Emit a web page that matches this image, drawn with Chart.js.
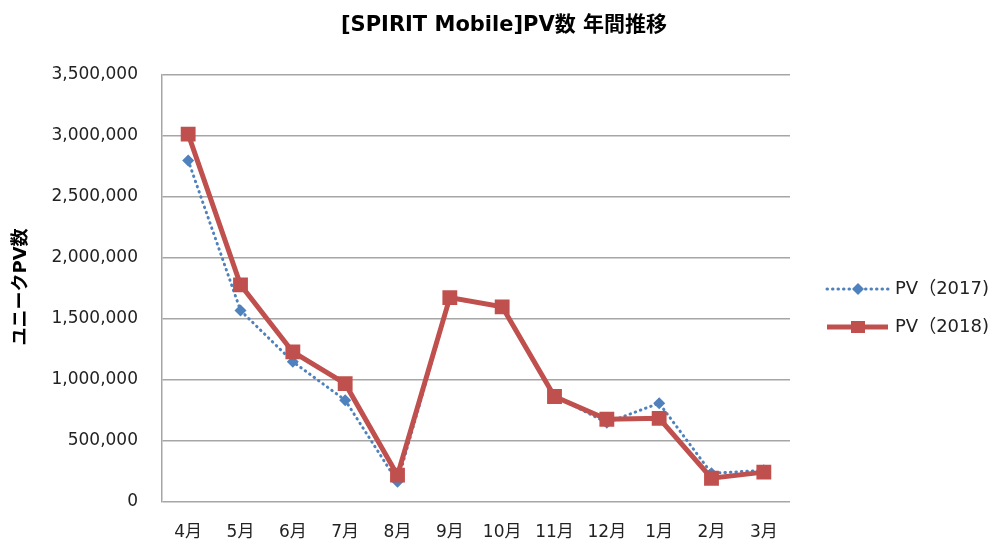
<!DOCTYPE html>
<html>
<head>
<meta charset="utf-8">
<script src="https://cdn.jsdelivr.net/npm/chart.js@4/dist/chart.umd.min.js"></script>
<style>
  html, body { margin: 0; padding: 0; background: #fff; }
  #wrap { width: 1004px; height: 549px; position: relative; }
</style>
</head>
<body>
<div id="wrap"><canvas id="c" width="1004" height="549"></canvas></div>
<script>
const chartTitle = "[SPIRIT Mobile]PV数 年間推移";
const yAxisTitle = "ユニークPV数";
const months = ["4月","5月","6月","7月","8月","9月","10月","11月","12月","1月","2月","3月"];
const seriesNames = ["PV（2017)", "PV（2018)"];
const pv2017 = [2800000, 1570000, 1150000, 835000, 165000, 1670000, 1600000, 870000, 650000, 810000, 235000, 260000];
const pv2018 = [3015000, 1780000, 1230000, 970000, 220000, 1675000, 1600000, 865000, 678000, 686000, 195000, 245000];
const yMin = 0, yMax = 3500000, yStep = 500000;

const JP = '"DejaVu Sans", "Noto Sans CJK JP", sans-serif';
const C2017 = '#4F81BD';
const C2018 = '#C0504D';

const decor = {
  id: 'decor',
  afterDraw(chart) {
    const ctx = chart.ctx;
    ctx.save();
    // title
    ctx.fillStyle = '#000';
    ctx.font = 'bold 21px ' + JP;
    ctx.textAlign = 'center';
    ctx.textBaseline = 'middle';
    ctx.fillText(chartTitle, 504, 26);
    // y axis title
    ctx.save();
    ctx.translate(21, 287);
    ctx.rotate(-Math.PI / 2);
    ctx.font = 'bold 18px ' + JP;
    ctx.fillText(yAxisTitle, 0, 0);
    ctx.restore();
    // legend
    const items = [
      {y: 289, color: C2017, dash: [0.5, 5], width: 3, marker: 'diamond', name: seriesNames[0]},
      {y: 327, color: C2018, dash: [], width: 5, marker: 'square', name: seriesNames[1]}
    ];
    items.forEach(it => {
      ctx.strokeStyle = it.color;
      ctx.lineWidth = it.width;
      ctx.setLineDash(it.dash);
      ctx.lineCap = it.dash.length ? 'round' : 'butt';
      ctx.beginPath();
      ctx.moveTo(827, it.y);
      ctx.lineTo(888, it.y);
      ctx.stroke();
      ctx.setLineDash([]);
      ctx.fillStyle = it.color;
      if (it.marker === 'diamond') {
        ctx.beginPath();
        ctx.moveTo(858, it.y - 6); ctx.lineTo(864, it.y); ctx.lineTo(858, it.y + 6); ctx.lineTo(852, it.y);
        ctx.closePath(); ctx.fill();
      } else {
        ctx.fillRect(851, it.y - 6, 14, 12);
      }
      ctx.fillStyle = '#222';
      ctx.font = '18px ' + JP;
      ctx.textAlign = 'left';
      ctx.textBaseline = 'middle';
      ctx.fillText(it.name, 895, it.y);
    });
    ctx.restore();
  }
};

new Chart(document.getElementById('c'), {
  type: 'line',
  data: {
    labels: months,
    datasets: [
      {
        label: seriesNames[0],
        data: pv2017,
        order: 1,
        borderColor: C2017,
        backgroundColor: C2017,
        borderWidth: 3,
        borderDash: [0.5, 5],
        borderCapStyle: 'round',
        pointStyle: 'rectRot',
        pointRadius: 6,
        pointBorderWidth: 0,
        pointBackgroundColor: C2017,
        tension: 0
      },
      {
        label: seriesNames[1],
        data: pv2018,
        order: 0,
        borderColor: C2018,
        backgroundColor: C2018,
        borderWidth: 5,
        pointStyle: 'rect',
        pointRadius: 10.5,
        pointBorderWidth: 0,
        pointBackgroundColor: C2018,
        tension: 0
      }
    ]
  },
  options: {
    responsive: false,
    animation: false,
    devicePixelRatio: 1,
    layout: { padding: { left: 0, top: 75, right: 214, bottom: 0 } },
    plugins: {
      legend: { display: false },
      title: { display: false },
      tooltip: { enabled: false }
    },
    scales: {
      x: {
        offset: true,
        grid: { display: false, drawTicks: false },
        border: { display: false },
        ticks: { color: '#222', font: { family: JP, size: 17 }, padding: 20, maxRotation: 0, autoSkip: false },
        afterFit(s) { s.height = 47; }
      },
      y: {
        min: yMin, max: yMax,
        grid: { color: '#a6a6a6', lineWidth: 1.5, drawTicks: false },
        border: { display: true, color: '#a6a6a6', width: 1.5 },
        ticks: {
          stepSize: yStep,
          color: '#222',
          padding: 24,
          font: { family: JP, size: 17 },
          callback: v => v.toLocaleString('en-US')
        },
        afterFit(s) { s.width = 162; }
      }
    }
  },
  plugins: [decor]
});
</script>
</body>
</html>
